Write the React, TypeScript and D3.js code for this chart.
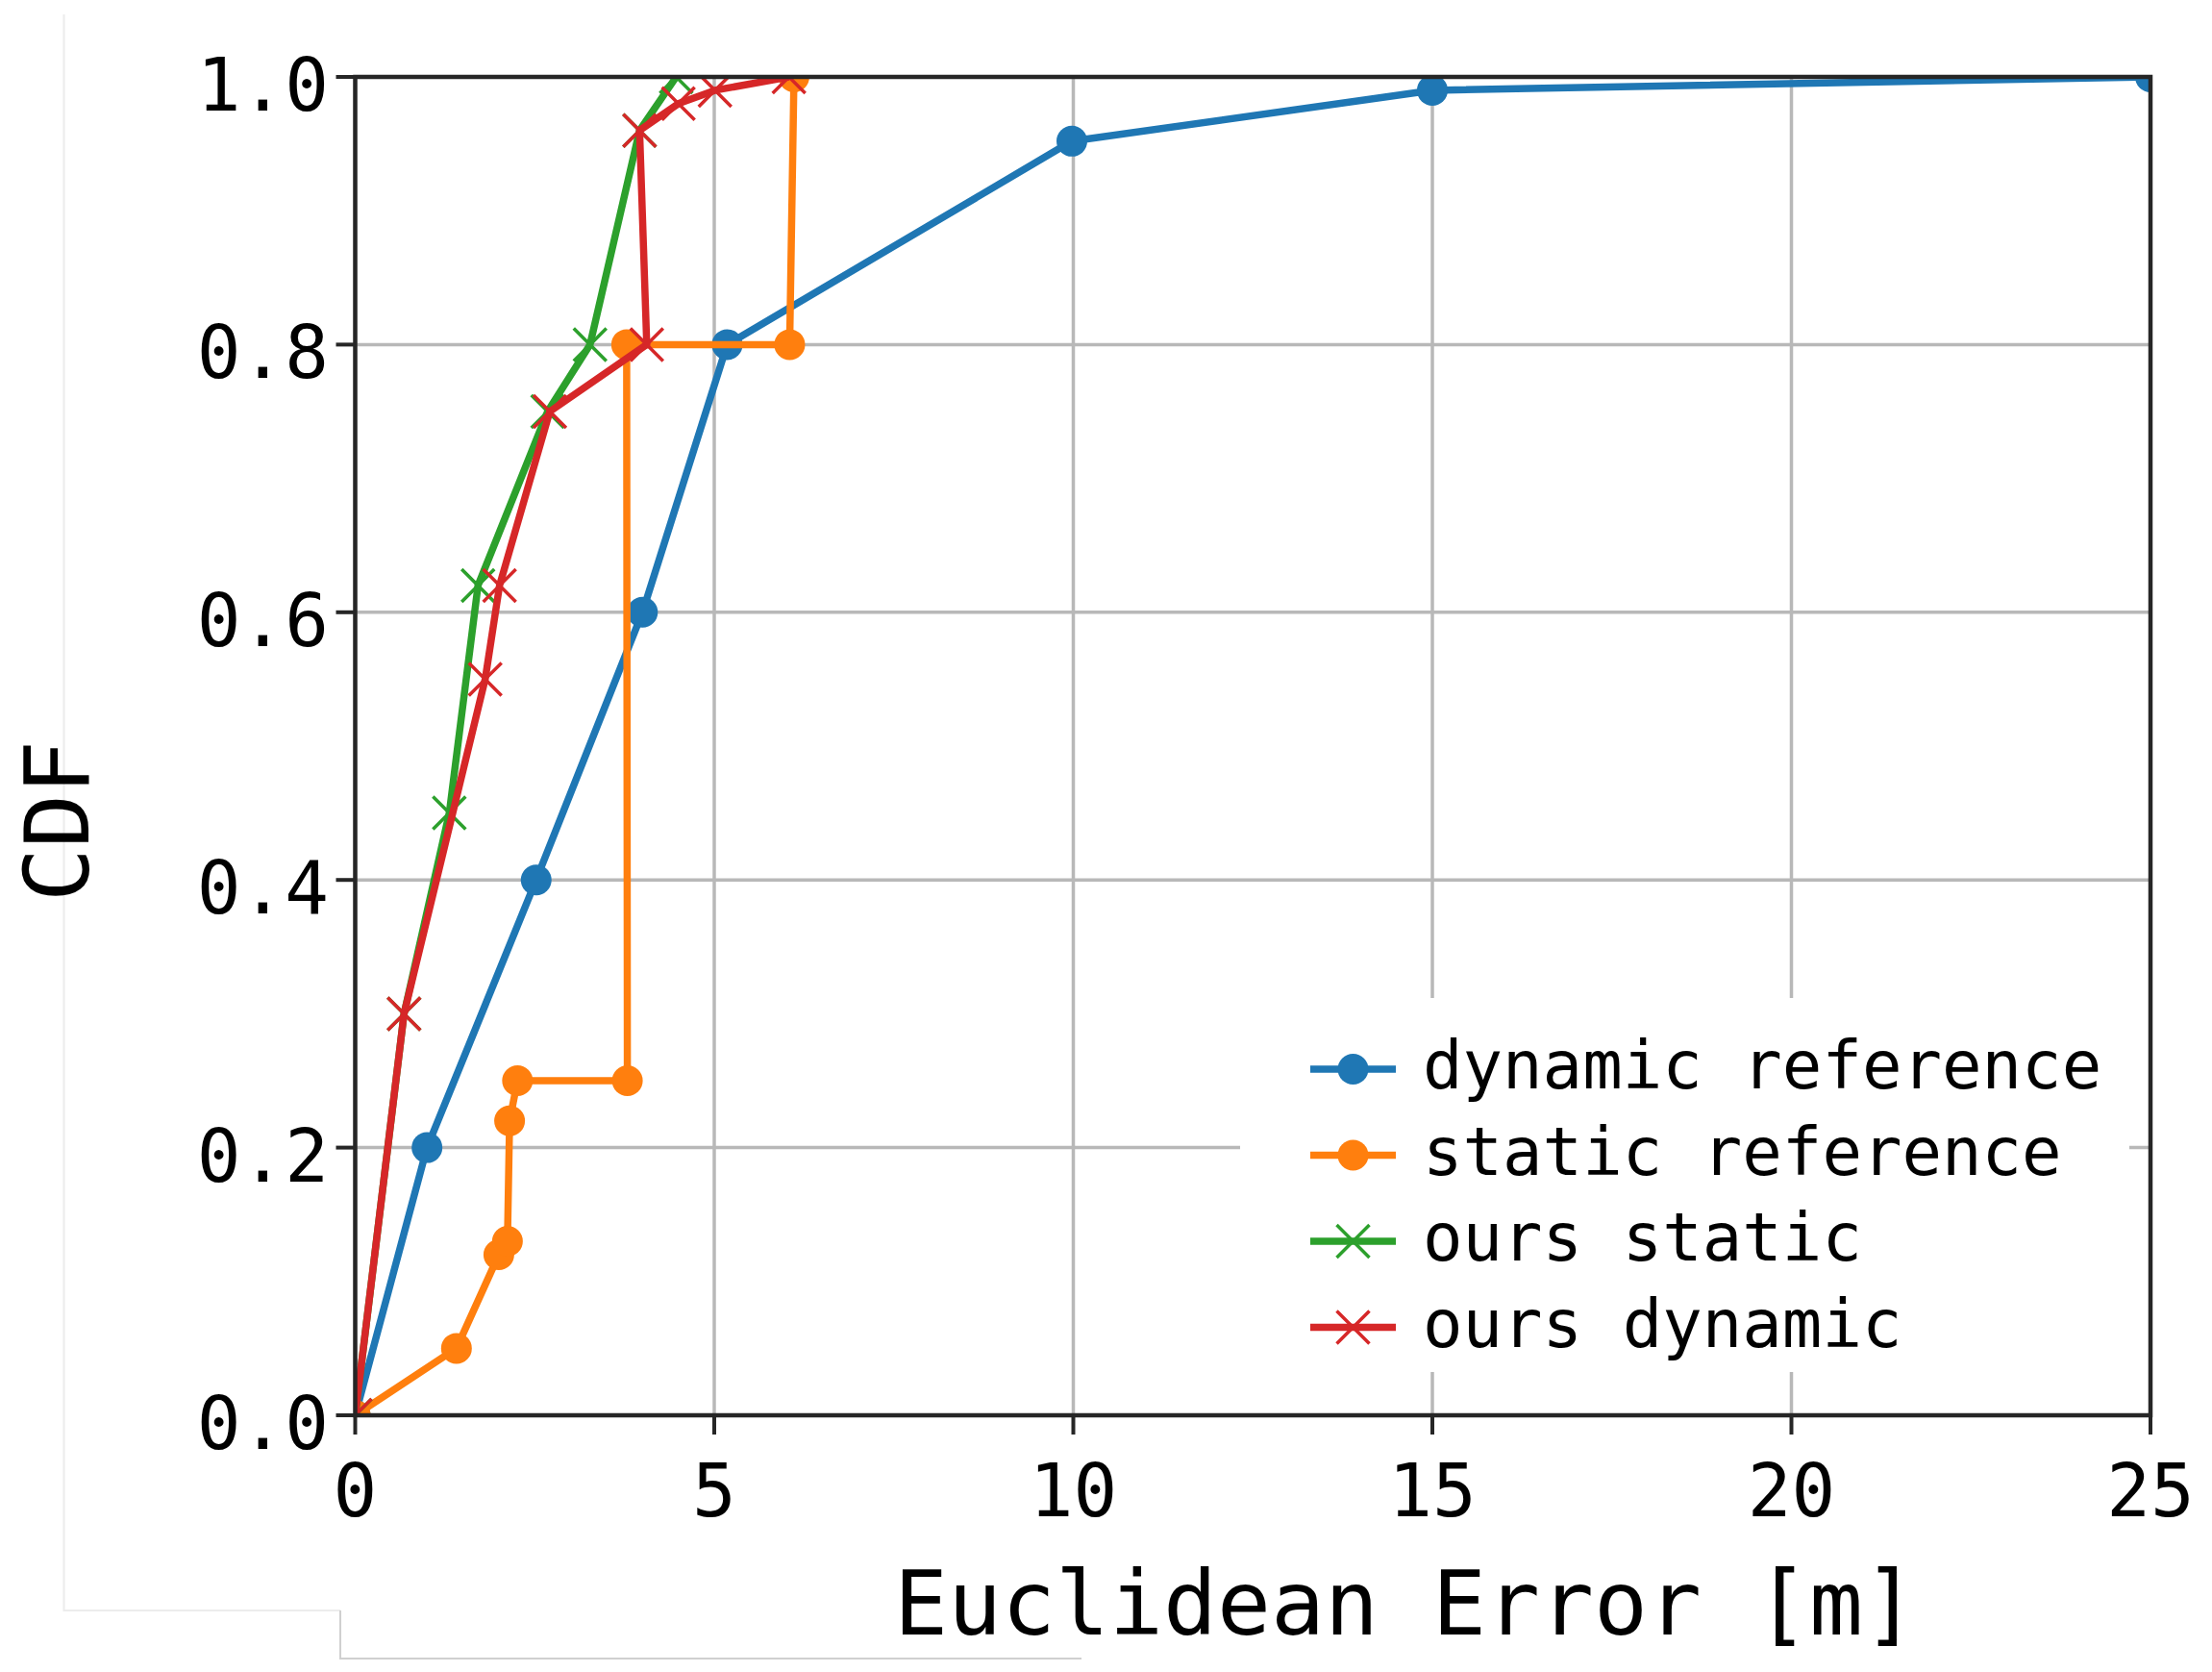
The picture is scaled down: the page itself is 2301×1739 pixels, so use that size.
import React from "react";
import * as d3 from "d3";

// ---- data ----
const xTicks = [0, 5, 10, 15, 20, 25];
const yTicks = [0, 0.2, 0.4, 0.6, 0.8, 1.0];
const yTickLabels = ["0.0", "0.2", "0.4", "0.6", "0.8", "1.0"];

const seriesNames = ["dynamic reference", "static reference", "ours static", "ours dynamic"];
const seriesColors = ["#1f77b4", "#ff7f0e", "#2ca02c", "#d62728"];
const seriesMarkers = ["o", "o", "x", "x"];

const dynRefX = [0, 1.0, 2.52, 4.0, 5.18, 9.98, 15.0, 25.0];
const dynRefY = [0, 0.2, 0.4, 0.6, 0.8, 0.952, 0.99, 1.0];
const staRefX = [0, 1.41, 2.0, 2.12, 2.15, 2.26, 3.79, 3.78, 6.05, 6.11];
const staRefY = [0, 0.05, 0.12, 0.13, 0.22, 0.25, 0.25, 0.8, 0.8, 1.0];
const oursStaX = [0, 0.68, 1.31, 1.71, 2.68, 3.27, 3.96, 4.47];
const oursStaY = [0, 0.3, 0.45, 0.62, 0.75, 0.8, 0.96, 1.0];
const oursDynX = [0, 0.68, 1.81, 2.01, 2.71, 4.06, 3.96, 4.5, 5.01, 6.04];
const oursDynY = [0, 0.3, 0.55, 0.62, 0.75, 0.8, 0.96, 0.98, 0.99, 1.0];

const seriesX = [dynRefX, staRefX, oursStaX, oursDynX];
const seriesY = [dynRefY, staRefY, oursStaY, oursDynY];

const W = 2301;
const H = 1739;
const L = 369.5, R = 2237, T = 80, B = 1472;
const MONO = "'DejaVu Sans Mono', monospace";

export default function App() {
  const x = d3.scaleLinear().domain([0, 25]).range([L, R]);
  const y = d3.scaleLinear().domain([0, 1]).range([B, T]);
  const line = d3.line<[number, number]>().x((d) => x(d[0])).y((d) => y(d[1]));

  const lw = 7.5;
  const r = 16;
  const xs = 17;

  const marker = (kind: string, cx: number, cy: number, color: string, key: string) =>
    kind === "o" ? (
      <circle key={key} cx={cx} cy={cy} r={r} fill={color} />
    ) : (
      <path
        key={key}
        d={`M${cx - xs},${cy - xs}L${cx + xs},${cy + xs}M${cx - xs},${cy + xs}L${cx + xs},${cy - xs}`}
        stroke={color}
        strokeWidth={3.5}
        fill="none"
      />
    );

  const legX = 1363, legX2 = 1452, legText = 1480, legY0 = 1112, legDy = 89.5;

  return (
    <svg
      width={W}
      height={H}
      style={{ position: "absolute", left: 0, top: 0, background: "#fff" }}
      xmlns="http://www.w3.org/2000/svg"
    >
      <rect x={0} y={0} width={W} height={H} fill="#fff" />
      {/* faint frame artifacts */}
      <path d="M66.5,15V1675H354" stroke="#ececec" strokeWidth={2} fill="none" />
      <path d="M354,1675V1725H1125" stroke="#d0d0d0" strokeWidth={2} fill="none" />

      <defs>
        <clipPath id="plotclip">
          <rect x={L} y={T} width={R - L} height={B - T} />
        </clipPath>
      </defs>

      {/* grid */}
      <g stroke="#b8b8b8" strokeWidth={3.5}>
        {xTicks.map((t) => (
          <line key={"gx" + t} x1={x(t)} x2={x(t)} y1={T} y2={B} />
        ))}
        {yTicks.map((t) => (
          <line key={"gy" + t} x1={L} x2={R} y1={y(t)} y2={y(t)} />
        ))}
      </g>

      {/* series */}
      <g clipPath="url(#plotclip)">
        {seriesNames.map((name, i) => {
          const pts: [number, number][] = seriesX[i].map((v, j) => [v, seriesY[i][j]]);
          return (
            <g key={name}>
              <path
                d={line(pts) || ""}
                stroke={seriesColors[i]}
                strokeWidth={lw}
                fill="none"
                strokeLinejoin="round"
                strokeLinecap="butt"
              />
              {pts.map((p, j) => marker(seriesMarkers[i], x(p[0]), y(p[1]), seriesColors[i], name + j))}
            </g>
          );
        })}
      </g>

      {/* legend */}
      <rect x={1290} y={1038} width={925} height={389} fill="#fff" />
      {seriesNames.map((name, i) => {
        const cy = legY0 + i * legDy;
        return (
          <g key={"leg" + name}>
            <line x1={legX} x2={legX2} y1={cy} y2={cy} stroke={seriesColors[i]} strokeWidth={lw} />
            {marker(seriesMarkers[i], (legX + legX2) / 2, cy, seriesColors[i], "lm" + i)}
            <text x={legText} y={cy + 20} fontFamily={MONO} fontSize={69} fill="#000">
              {name}
            </text>
          </g>
        );
      })}

      {/* spines */}
      <rect x={L} y={T} width={R - L} height={B - T} fill="none" stroke="#262626" strokeWidth={4.5} />

      {/* ticks */}
      <g stroke="#262626" strokeWidth={4}>
        {xTicks.map((t) => (
          <line key={"tx" + t} x1={x(t)} x2={x(t)} y1={B} y2={B + 20} />
        ))}
        {yTicks.map((t) => (
          <line key={"ty" + t} x1={L - 20} x2={L} y1={y(t)} y2={y(t)} />
        ))}
      </g>

      {/* tick labels */}
      {xTicks.map((t) => (
        <text key={"lx" + t} x={x(t)} y={1577} textAnchor="middle" fontFamily={MONO} fontSize={76} fill="#000">
          {String(t)}
        </text>
      ))}
      {yTicks.map((t, i) => (
        <text key={"ly" + t} x={342} y={y(t) + 35} textAnchor="end" fontFamily={MONO} fontSize={76} fill="#000">
          {yTickLabels[i]}
        </text>
      ))}

      {/* axis labels */}
      <text x={1462} y={1700} textAnchor="middle" fontFamily={MONO} fontSize={93} fill="#000">
        Euclidean Error [m]
      </text>
      <text
        transform="translate(92,854) rotate(-90)"
        textAnchor="middle"
        fontFamily={MONO}
        fontSize={93}
        fill="#000"
      >
        CDF
      </text>
    </svg>
  );
}
